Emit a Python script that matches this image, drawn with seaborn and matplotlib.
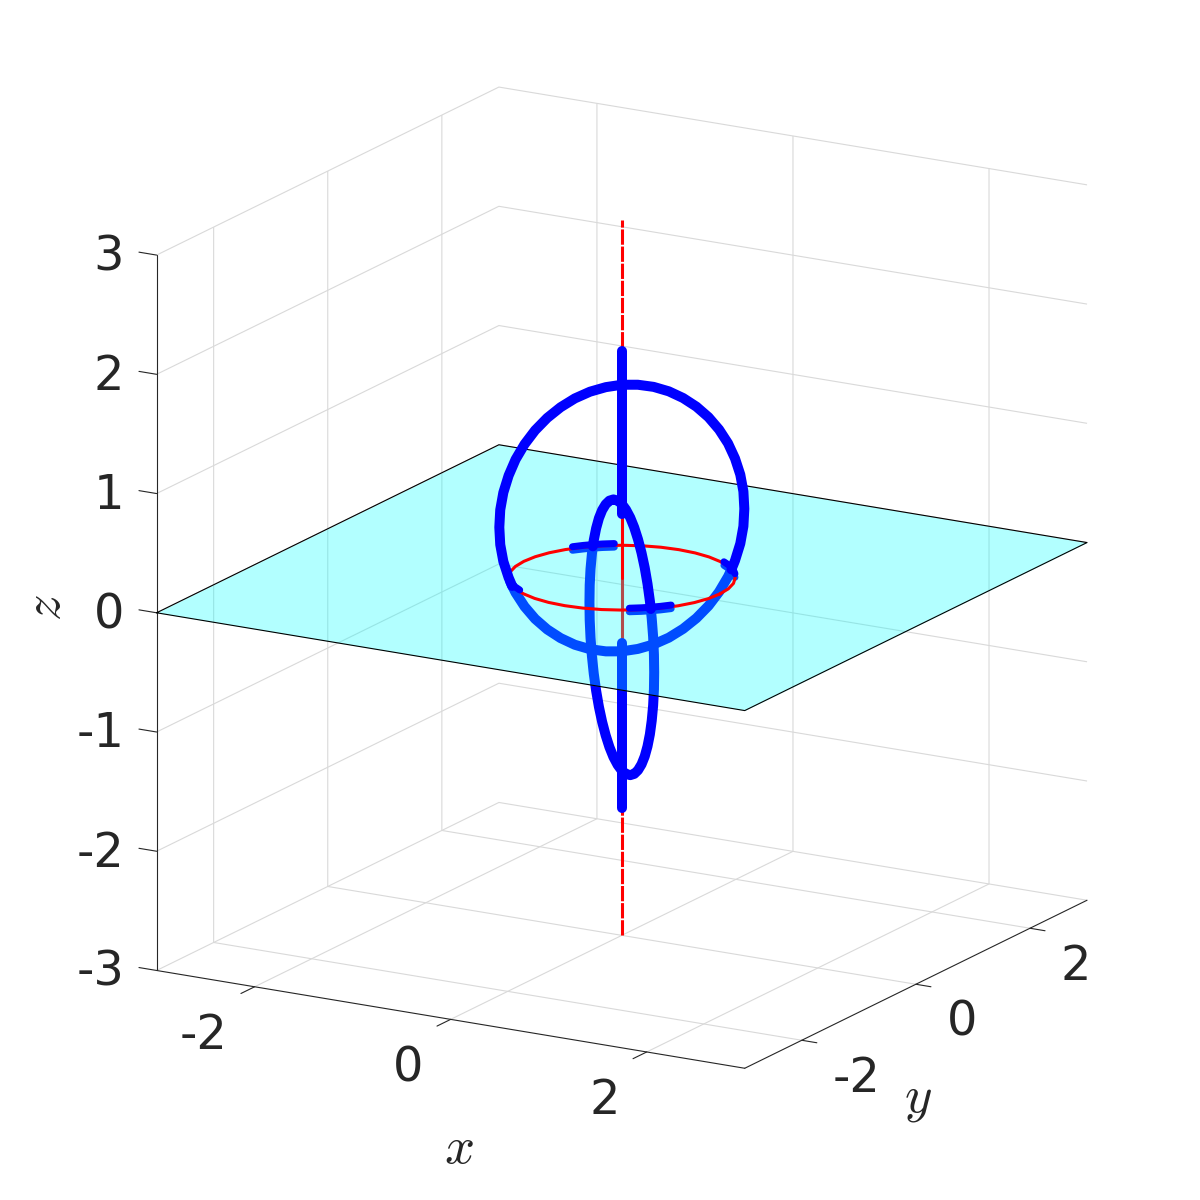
import matplotlib
matplotlib.use("Agg")
import matplotlib.pyplot as plt
from matplotlib.ticker import NullFormatter
import numpy as np
import seaborn as sns

# ticks
x_ticks = [-2, 0, 2]
y_ticks = [-2, 0, 2]
z_ticks = [-3, -2, -1, 0, 1, 2, 3]

# plane z = 0
plane_x = np.array([[-3, 3], [-3, 3]])
plane_y = np.array([[-3, -3], [3, 3]])
plane_z = np.array([[0, 0], [0, 0]])
edge_x = [-3, 3, 3, -3, -3]
edge_y = [-3, -3, 3, 3, -3]
edge_z = [0, 0, 0, 0, 0]

# red circle in the plane
ring_x = [1, .985, .94, .866, .766, .643, .5, .342, .174, 0, -.174, -.342, -.5, -.643, -.766, -.866, -.94, -.985,
          -1, -.985, -.94, -.866, -.766, -.643, -.5, -.342, -.174, 0, .174, .342, .5, .643, .766, .866, .94, .985, 1]
ring_y = [0, .174, .342, .5, .643, .766, .866, .94, .985, 1, .985, .94, .866, .766, .643, .5, .342, .174,
          0, -.174, -.342, -.5, -.643, -.766, -.866, -.94, -.985, -1, -.985, -.94, -.866, -.766, -.643, -.5, -.342, -.174, 0]

# big blue circle (x = y), above and below the plane
big_up_xy = [.707, .730, .764, .784, .79, .784, .764, .730, .685, .627, .559, .481, .395, .303, .205, .103, 0,
             -.103, -.205, -.303, -.395, -.481, -.559, -.627, -.685, -.730, -.764, -.784, -.79, -.784, -.764, -.730, -.707]
big_up_z = [0, .072, .211, .354, .5, .646, .789, .928, 1.059, 1.181, 1.291, 1.387, 1.468, 1.533, 1.58, 1.608, 1.618,
            1.608, 1.58, 1.533, 1.468, 1.387, 1.291, 1.181, 1.059, .928, .789, .646, .5, .354, .211, .072, 0]
big_low_xy = [-.707, -.685, -.627, -.559, -.481, -.395, -.303, -.205, -.103, 0,
              .103, .205, .303, .395, .481, .559, .627, .685, .707]
big_low_z = [0, -.059, -.181, -.291, -.387, -.468, -.533, -.58, -.608, -.618,
             -.608, -.58, -.533, -.468, -.387, -.291, -.181, -.059, 0]

# narrow blue loop (y = -x)
loop_up_x = [-.707, -.685, -.627, -.559, -.481, -.395, -.303, -.205, -.103, 0,
             .103, .205, .303, .395, .481, .559, .627, .685, .707]
loop_up_y = [.707, .685, .627, .559, .481, .395, .303, .205, .103, 0,
             -.103, -.205, -.303, -.395, -.481, -.559, -.627, -.685, -.707]
loop_up_z = [0, .059, .181, .291, .387, .468, .533, .58, .608, .618,
             .608, .58, .533, .468, .387, .291, .181, .059, 0]
loop_low_x = [.707, .730, .764, .784, .79, .784, .764, .730, .685, .627, .559, .481, .395, .303, .205, .103, 0,
              -.103, -.205, -.303, -.395, -.481, -.559, -.627, -.685, -.730, -.764, -.784, -.79, -.784, -.764, -.730, -.707]
loop_low_y = [-.707, -.730, -.764, -.784, -.79, -.784, -.764, -.730, -.685, -.627, -.559, -.481, -.395, -.303, -.205, -.103, 0,
              .103, .205, .303, .395, .481, .559, .627, .685, .730, .764, .784, .79, .784, .764, .730, .707]
loop_low_z = [0, -.072, -.211, -.354, -.5, -.646, -.789, -.928, -1.059, -1.181, -1.291, -1.387, -1.468, -1.533, -1.58, -1.608, -1.618,
              -1.608, -1.58, -1.533, -1.468, -1.387, -1.291, -1.181, -1.059, -.928, -.789, -.646, -.5, -.354, -.211, -.072, 0]

# short blue arcs on the red circle
stub_back_x = [-.559, -.643, -.707, -.766, -.829]
stub_back_y = [.829, .766, .707, .643, .559]
stub_front_x = [.559, .643, .707, .766, .829]
stub_front_y = [-.829, -.766, -.707, -.643, -.559]
stub_right_x = [.829, .766, .707, .643, .559]
stub_right_y = [.559, .643, .707, .766, .829]
stub_left_x = [-.829, -.766, -.707, -.643, -.559]
stub_left_y = [-.559, -.643, -.707, -.766, -.829]
stub_up_z = [.015, .015, .015, .015, .015]
stub_low_z = [-.015, -.015, -.015, -.015, -.015]

# z axis pieces
axis_x = [0, 0]
axis_y = [0, 0]
red_top_z = [.5, 3]
red_mid_up_z = [0, .5]
red_mid_low_z = [-.5, 0]
red_bot_z = [-3, -.5]
blue_top_z = [.53, 1.9]
blue_bot_z = [-1.93, -.55]

BLUE = "#0000ff"
RED = "#ff0000"
INK = "#262626"

sns.set_theme(style="white", rc={"font.family": "DejaVu Sans", "mathtext.fontset": "cm",
                                 "axes.unicode_minus": False})

fig = plt.figure(figsize=(12, 12), dpi=100)
ax = fig.add_axes([0.00467, 0.0051, 1, 1], projection="3d", computed_zorder=False)
ax.set_proj_type("ortho")
ax.view_init(elev=16.6, azim=-59.8)
ax.set_box_aspect((1, 1, 1.097), zoom=0.9853)
ax.set_xlim(-3, 3, view_margin=0)
ax.set_ylim(-3, 3, view_margin=0)
ax.set_zlim(-3, 3, view_margin=0)

ax.set_xticks(x_ticks)
ax.set_yticks(y_ticks)
ax.set_zticks(z_ticks)

# below the plane
blue_low = dict(color=BLUE, lw=7.2, solid_capstyle="round", solid_joinstyle="round", zorder=1.5)
ax.plot(axis_x, axis_y, red_bot_z, color=RED, lw=2.2, dashes=(5, 0.6), zorder=1)
ax.plot(axis_x, axis_y, red_mid_low_z, color=RED, lw=2.2, zorder=1)
ax.plot(big_low_xy, big_low_xy, big_low_z, **blue_low)
ax.plot(loop_low_x, loop_low_y, loop_low_z, **blue_low)
ax.plot(axis_x, axis_y, blue_bot_z, **blue_low)
for sx, sy in [(stub_back_x, stub_back_y), (stub_front_x, stub_front_y),
               (stub_right_x, stub_right_y), (stub_left_x, stub_left_y)]:
    ax.plot(sx, sy, stub_low_z, color=BLUE, lw=5, solid_capstyle="round", zorder=1.5)

ax.plot_surface(plane_x, plane_y, plane_z, color=(0, 1, 1), alpha=0.3, shade=False, linewidth=0, zorder=2)
ax.plot(edge_x, edge_y, edge_z, color="black", lw=0.8, zorder=2.5)

# above the plane
blue_up = dict(color=BLUE, lw=7.2, solid_capstyle="round", solid_joinstyle="round", zorder=4)
ax.plot(axis_x, axis_y, red_top_z, color=RED, lw=2.2, dashes=(5, 0.6), zorder=3)
ax.plot(axis_x, axis_y, red_mid_up_z, color=RED, lw=2.2, zorder=3)
ax.plot(ring_x, ring_y, [0] * len(ring_x), color=RED, lw=2.2, zorder=3)
ax.plot(big_up_xy, big_up_xy, big_up_z, **blue_up)
ax.plot(loop_up_x, loop_up_y, loop_up_z, **blue_up)
ax.plot(axis_x, axis_y, blue_top_z, **blue_up)
for sx, sy in [(stub_back_x, stub_back_y), (stub_front_x, stub_front_y),
               (stub_right_x, stub_right_y), (stub_left_x, stub_left_y)]:
    ax.plot(sx, sy, stub_up_z, color=BLUE, lw=5, solid_capstyle="round", zorder=4)

# axes styling
for axis in (ax.xaxis, ax.yaxis, ax.zaxis):
    axis.set_pane_color((1, 1, 1, 0))
    axis.pane.set_edgecolor((1, 1, 1, 0))
    axis.line.set_color(INK)
    axis.line.set_linewidth(0.8)
    axis._axinfo["grid"]["color"] = "#d9d9d9"
    axis._axinfo["grid"]["linewidth"] = 0.8
    axis._axinfo["tick"]["inward_factor"] = 0
    axis._axinfo["tick"]["color"] = INK
    axis._axinfo["tick"]["linewidth"] = {True: 0.8, False: 0.8}
    # the labels are placed by hand below
    axis.set_major_formatter(NullFormatter())
    axis.label.set_visible(False)
    for tick in axis.get_major_ticks():
        tick.label1.set_visible(False)
        tick.label2.set_visible(False)
ax.xaxis._axinfo["tick"]["outward_factor"] = -0.5
ax.yaxis._axinfo["tick"]["outward_factor"] = -0.32
ax.zaxis._axinfo["tick"]["outward_factor"] = 0
ax.grid(True)
ax.zaxis.set_ticks_position("lower")

# z ticks run along x in the reference
for z in z_ticks:
    ax.plot([-3, -3.18], [-3, -3], [z, z], color=INK, lw=0.8, zorder=0.5)

# tick labels and axis labels
for x in x_ticks:
    ax.text(x + 0.015, -3.5, -3.285, str(x), fontsize=34.5, color=INK, ha="right", va="center")
for y in y_ticks:
    ax.text(3.316, y, -3.275, str(y), fontsize=34.5, color=INK, ha="left", va="center")
for z in z_ticks:
    ax.text(-3.33, -3, z - 0.06, str(z), fontsize=34.5, color=INK, ha="right", va="center")

ax.text(0.08, -3, -4.07, "$x$", fontsize=38, color=INK, ha="center", va="center")
ax.text(3, 0.035, -3.965, "$y$", fontsize=38, color=INK, ha="center", va="center")
ax.text(-4.143, -3, -0.115, "$z$", zdir="z", fontsize=38, color=INK, ha="center", va="center")

fig.savefig("out.png", dpi=100)
